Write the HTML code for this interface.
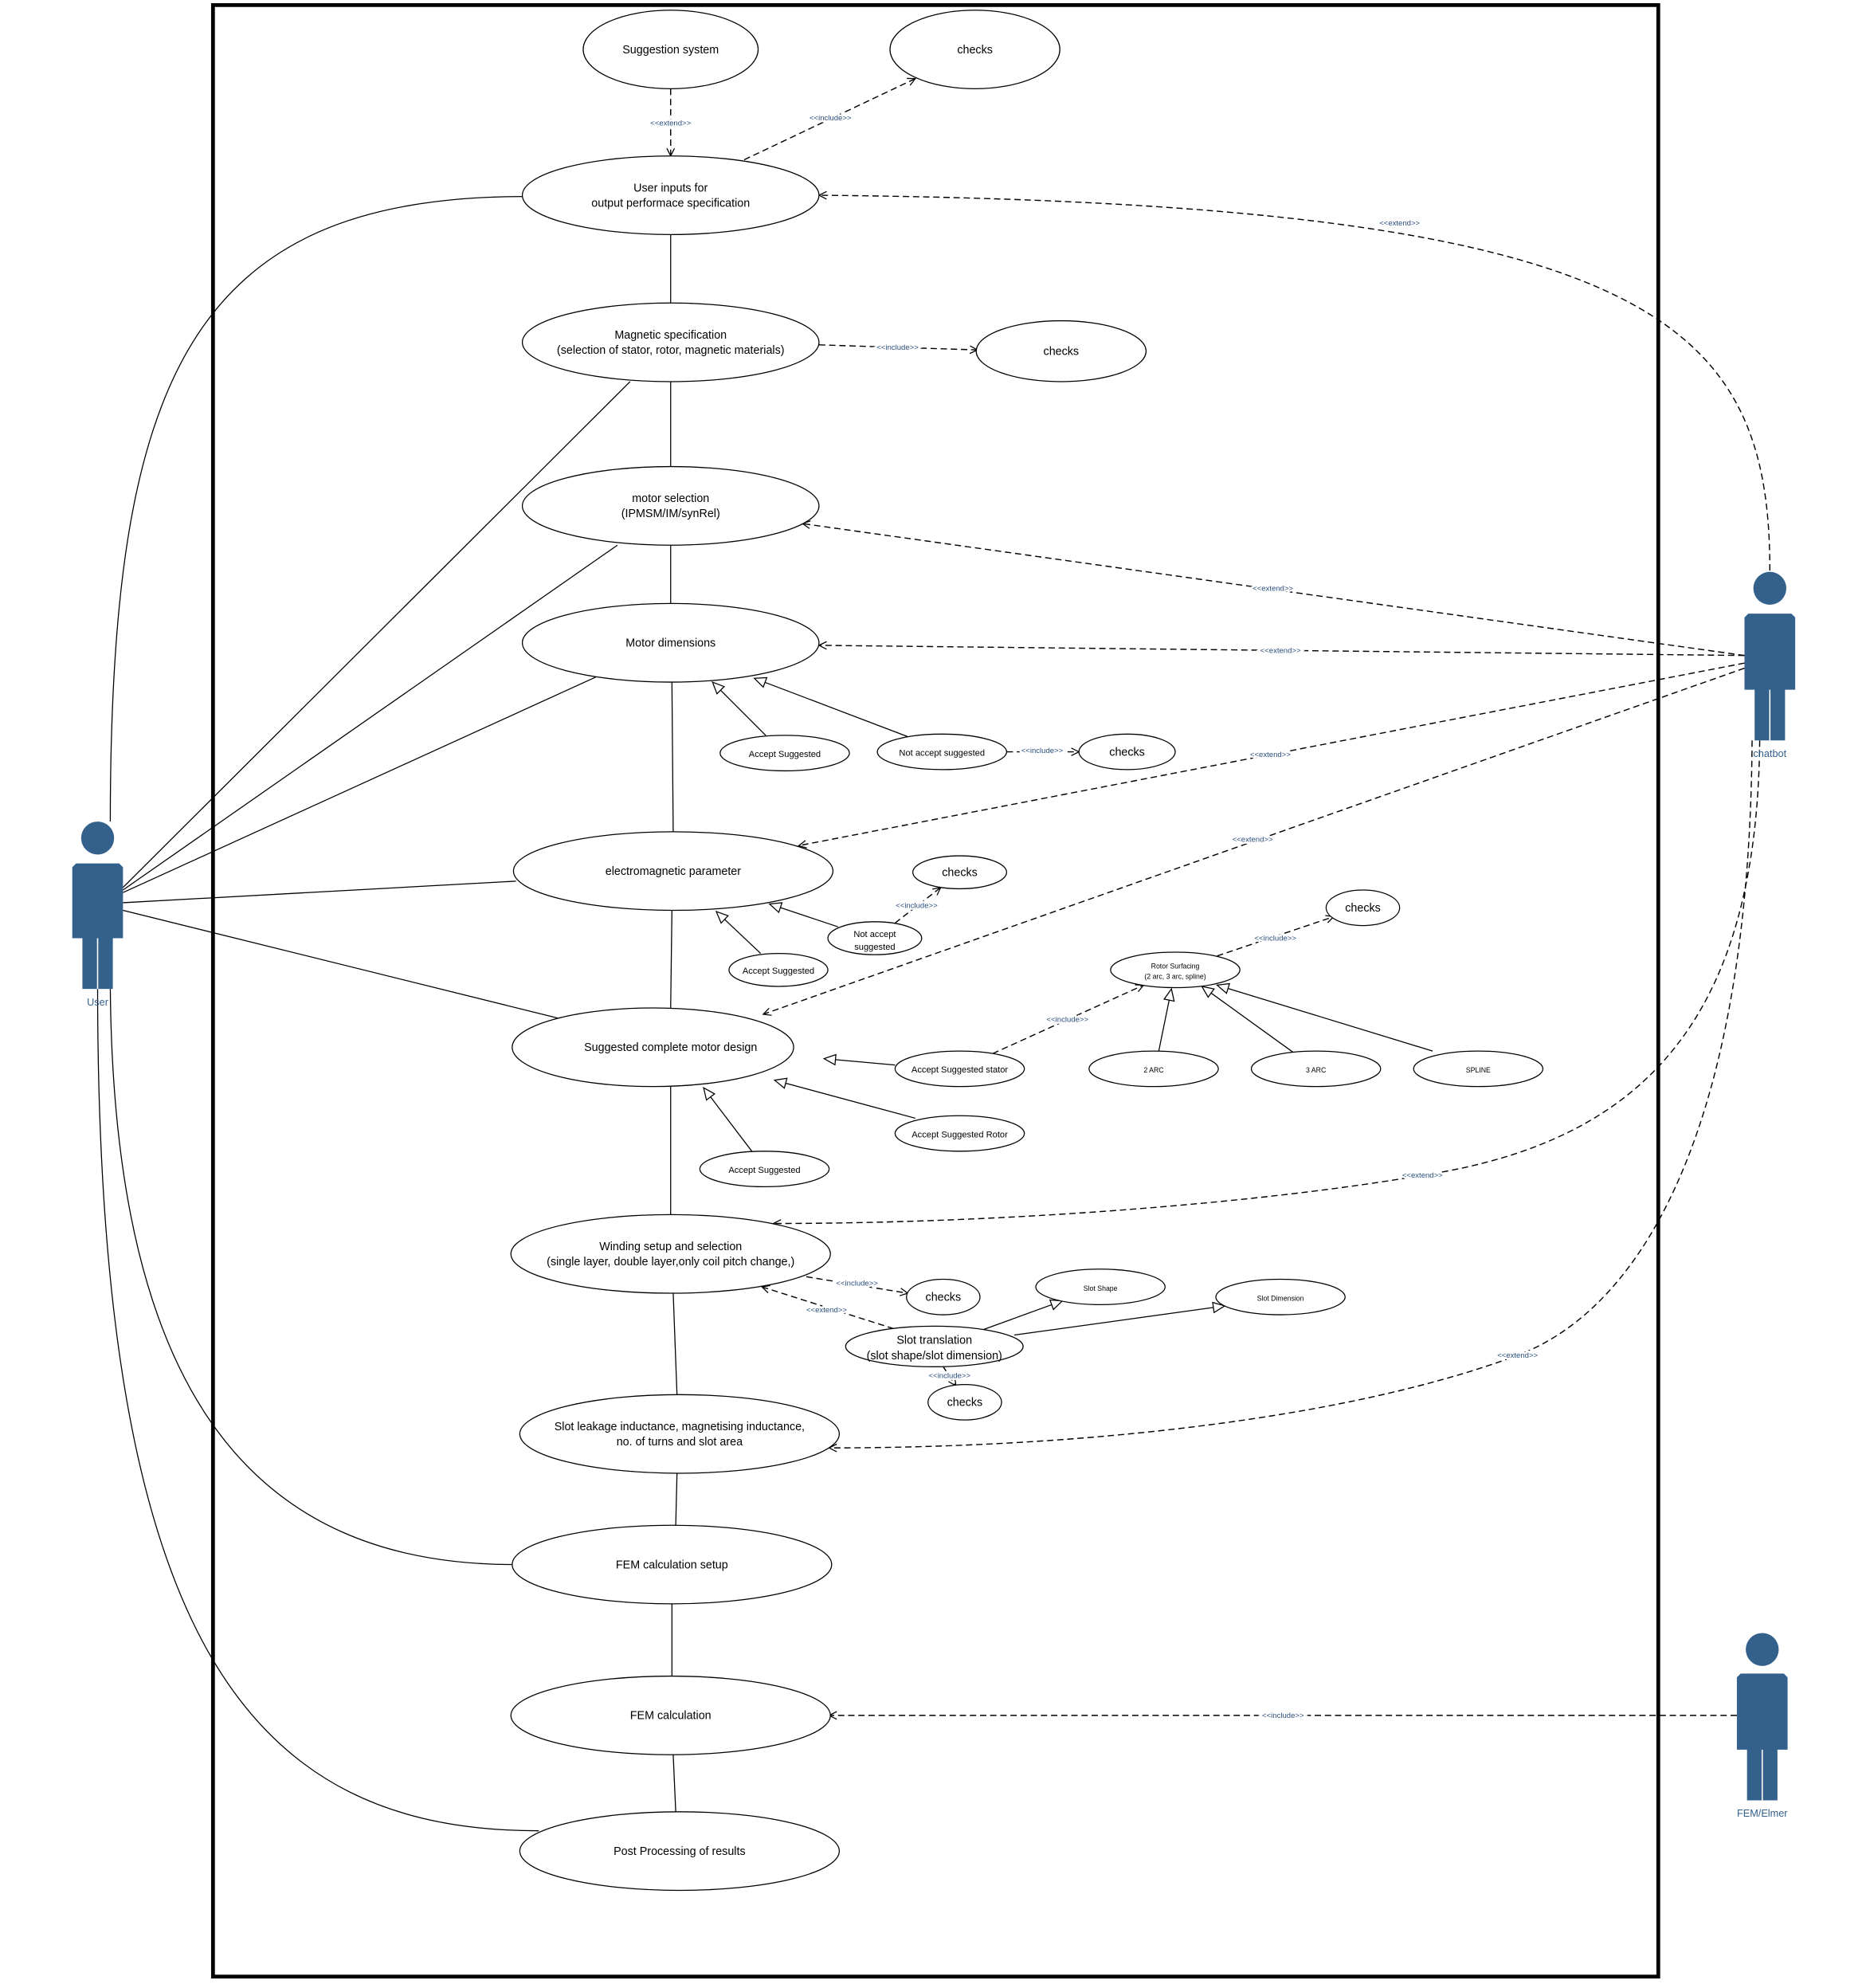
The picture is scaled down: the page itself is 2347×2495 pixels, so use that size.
<!DOCTYPE html>
<html><head><meta charset="utf-8"><style>
html,body{margin:0;padding:0;background:#fff}
svg{display:block}
text{font-family:"Liberation Sans",sans-serif;fill:#000}
.lbl{font-size:6px;fill:#2a4e7e;stroke:#fff;stroke-width:3px;paint-order:stroke}
</style></head><body>
<svg width="2347" height="2495" viewBox="0 0 1475 1568" preserveAspectRatio="none" xmlns="http://www.w3.org/2000/svg">
<defs>
<marker id="open" markerWidth="8" markerHeight="8" refX="7" refY="4" orient="auto" markerUnits="userSpaceOnUse"><path d="M1,1 L7,4 L1,7" fill="none" stroke="#000" stroke-width="0.8"/></marker>
<marker id="tri" markerWidth="12" markerHeight="12" refX="10" refY="5" orient="auto" markerUnits="userSpaceOnUse"><path d="M1,1 L10,5 L1,9 Z" fill="#fff" stroke="#000" stroke-width="0.8"/></marker>
</defs>
<rect x="168" y="4" width="1140" height="1555" fill="none" stroke="#000" stroke-width="3"/>

<g fill="none" stroke="#000" stroke-width="0.8">
<path d="M87,648 C87,300 150,155 413,155"/>
<path d="M87,780 C90,1100 200,1234 405,1234"/>
<path d="M77,780 C77,1300 200,1444 425,1444"/>
<line x1="97" y1="700" x2="497" y2="301"/>
<line x1="97" y1="702" x2="487" y2="430"/>
<line x1="97" y1="704" x2="470" y2="534"/>
<line x1="97" y1="712" x2="407" y2="695"/>
<line x1="97" y1="718" x2="440" y2="803"/>
<line x1="529" y1="185" x2="529" y2="239"/>
<line x1="529" y1="301" x2="529" y2="368"/>
<line x1="529" y1="430" x2="529" y2="476"/>
<line x1="530" y1="538" x2="531" y2="656"/>
<line x1="530" y1="718" x2="529" y2="795"/>
<line x1="529" y1="857" x2="529" y2="958"/>
<line x1="531" y1="1020" x2="534" y2="1100"/>
<line x1="534" y1="1162" x2="533" y2="1203"/>
<line x1="530" y1="1265" x2="530" y2="1322"/>
<line x1="531" y1="1384" x2="533" y2="1429"/>
</g>

<g fill="none" stroke="#000" stroke-width="0.8" marker-end="url(#tri)">
<line x1="604" y1="580" x2="562" y2="538"/>
<line x1="716" y1="581" x2="595" y2="535"/>
<line x1="600" y1="752" x2="565" y2="719"/>
<line x1="661" y1="731" x2="607" y2="713"/>
<line x1="706" y1="840" x2="650" y2="835"/>
<line x1="722" y1="882" x2="611" y2="852"/>
<line x1="593" y1="908" x2="555" y2="858"/>
<line x1="914" y1="829" x2="924" y2="780"/>
<line x1="1020" y1="830" x2="948" y2="778"/>
<line x1="1130" y1="829" x2="960" y2="777"/>
<line x1="772" y1="1050" x2="838" y2="1026"/>
<line x1="800" y1="1053" x2="966" y2="1030"/>
</g>

<g fill="none" stroke="#000" stroke-width="0.9" stroke-dasharray="5,3" marker-end="url(#open)">
<line x1="529" y1="70" x2="529" y2="123"/>
<line x1="587" y1="126" x2="722" y2="62"/>
<path d="M1396,450 C1396,250 1300,160 646,154"/>
<line x1="646" y1="272" x2="771" y2="276"/>
<line x1="1376" y1="517" x2="633" y2="413"/>
<line x1="1376" y1="517" x2="646" y2="509"/>
<line x1="1376" y1="523" x2="630" y2="667"/>
<line x1="1376" y1="527" x2="602" y2="800"/>
<path d="M1388,584 C1386,800 1300,900 1122,927 C1000,948 800,965 610,965"/>
<path d="M1382,584 C1380,880 1300,1030 1197,1069 C1060,1120 850,1142 654,1142"/>
<line x1="1370" y1="1353" x2="654" y2="1353"/>
<line x1="794" y1="593" x2="851" y2="593"/>
<line x1="706" y1="728" x2="742" y2="700"/>
<line x1="960" y1="754" x2="1052" y2="723"/>
<line x1="783" y1="831" x2="902" y2="777"/>
<line x1="636" y1="1007" x2="716" y2="1020"/>
<line x1="705" y1="1048" x2="601" y2="1015"/>
<line x1="744" y1="1078" x2="754" y2="1093"/>
</g>

<g text-anchor="middle">
<text class="lbl" x="529" y="99">&lt;&lt;extend&gt;&gt;</text>
<text class="lbl" x="655" y="95">&lt;&lt;include&gt;&gt;</text>
<text class="lbl" x="1104" y="178">&lt;&lt;extend&gt;&gt;</text>
<text class="lbl" x="708" y="276">&lt;&lt;include&gt;&gt;</text>
<text class="lbl" x="1004" y="466">&lt;&lt;extend&gt;&gt;</text>
<text class="lbl" x="1010" y="515">&lt;&lt;extend&gt;&gt;</text>
<text class="lbl" x="1002" y="597">&lt;&lt;extend&gt;&gt;</text>
<text class="lbl" x="988" y="664">&lt;&lt;extend&gt;&gt;</text>
<text class="lbl" x="1122" y="929">&lt;&lt;extend&gt;&gt;</text>
<text class="lbl" x="1197" y="1071">&lt;&lt;extend&gt;&gt;</text>
<text class="lbl" x="1012" y="1355">&lt;&lt;include&gt;&gt;</text>
<text class="lbl" x="822" y="594">&lt;&lt;include&gt;&gt;</text>
<text class="lbl" x="723" y="716">&lt;&lt;include&gt;&gt;</text>
<text class="lbl" x="1006" y="742">&lt;&lt;include&gt;&gt;</text>
<text class="lbl" x="842" y="806">&lt;&lt;include&gt;&gt;</text>
<text class="lbl" x="676" y="1014">&lt;&lt;include&gt;&gt;</text>
<text class="lbl" x="652" y="1035">&lt;&lt;extend&gt;&gt;</text>
<text class="lbl" x="749" y="1087">&lt;&lt;include&gt;&gt;</text>
</g>

<g fill="#fff" stroke="#000" stroke-width="0.8">
<ellipse cx="529" cy="39" rx="69" ry="31"/>
<ellipse cx="769" cy="39" rx="67" ry="31"/>
<ellipse cx="529" cy="154" rx="117" ry="31"/>
<ellipse cx="529" cy="270" rx="117" ry="31"/>
<ellipse cx="837" cy="277" rx="67" ry="24"/>
<ellipse cx="529" cy="399" rx="117" ry="31"/>
<ellipse cx="529" cy="507" rx="117" ry="31"/>
<ellipse cx="619" cy="594" rx="51" ry="14"/>
<ellipse cx="743" cy="593" rx="51" ry="14"/>
<ellipse cx="889" cy="593" rx="38" ry="14"/>
<ellipse cx="531" cy="687" rx="126" ry="31"/>
<ellipse cx="757" cy="688" rx="37" ry="13"/>
<ellipse cx="690" cy="740" rx="37" ry="13"/>
<ellipse cx="614" cy="765" rx="39" ry="13"/>
<ellipse cx="1075" cy="716" rx="29" ry="14"/>
<ellipse cx="927" cy="765" rx="51" ry="14"/>
<ellipse cx="515" cy="826" rx="111" ry="31"/>
<ellipse cx="757" cy="843" rx="51" ry="14"/>
<ellipse cx="910" cy="843" rx="51" ry="14"/>
<ellipse cx="1038" cy="843" rx="51" ry="14"/>
<ellipse cx="1166" cy="843" rx="51" ry="14"/>
<ellipse cx="757" cy="894" rx="51" ry="14"/>
<ellipse cx="603" cy="922" rx="51" ry="14"/>
<ellipse cx="529" cy="989" rx="126" ry="31"/>
<ellipse cx="744" cy="1023" rx="29" ry="14"/>
<ellipse cx="868" cy="1015" rx="51" ry="14"/>
<ellipse cx="1010" cy="1023" rx="51" ry="14"/>
<ellipse cx="737" cy="1062" rx="70" ry="16"/>
<ellipse cx="761" cy="1106" rx="29" ry="14"/>
<ellipse cx="536" cy="1131" rx="126" ry="31"/>
<ellipse cx="530" cy="1234" rx="126" ry="31"/>
<ellipse cx="529" cy="1353" rx="126" ry="31"/>
<ellipse cx="536" cy="1460" rx="126" ry="31"/>
</g>

<g text-anchor="middle" font-size="9">
<text x="529" y="42">Suggestion system</text>
<text x="769" y="42">checks</text>
<text x="529" y="151">User inputs for</text>
<text x="529" y="163">output performace specification</text>
<text x="529" y="267">Magnetic specification</text>
<text x="529" y="279">(selection of stator, rotor, magnetic materials)</text>
<text x="837" y="280">checks</text>
<text x="529" y="396">motor selection</text>
<text x="529" y="408">(IPMSM/IM/synRel)</text>
<text x="529" y="510">Motor dimensions</text>
<text x="619" y="597" font-size="7">Accept Suggested</text>
<text x="743" y="596" font-size="7">Not accept suggested</text>
<text x="889" y="596">checks</text>
<text x="531" y="690">electromagnetic parameter</text>
<text x="757" y="691">checks</text>
<text x="690" y="739" font-size="7">Not accept</text>
<text x="690" y="749" font-size="7">suggested</text>
<text x="614" y="768" font-size="7">Accept Suggested</text>
<text x="1075" y="719">checks</text>
<text x="927" y="764" font-size="5.5">Rotor Surfacing</text>
<text x="927" y="772" font-size="5.5">(2 arc, 3 arc, spline)</text>
<text x="529" y="829">Suggested complete motor design</text>
<text x="757" y="846" font-size="7">Accept Suggested stator</text>
<text x="910" y="846" font-size="5.5">2 ARC</text>
<text x="1038" y="846" font-size="5.5">3 ARC</text>
<text x="1166" y="846" font-size="5.5">SPLINE</text>
<text x="757" y="897" font-size="7">Accept Suggested Rotor</text>
<text x="603" y="925" font-size="7">Accept Suggested</text>
<text x="529" y="986">Winding setup and selection</text>
<text x="529" y="998">(single layer, double layer,only coil pitch change,)</text>
<text x="744" y="1026">checks</text>
<text x="868" y="1018" font-size="5.5">Slot Shape</text>
<text x="1010" y="1026" font-size="5.5">Slot Dimension</text>
<text x="737" y="1060">Slot translation</text>
<text x="737" y="1072">(slot shape/slot dimension)</text>
<text x="761" y="1109">checks</text>
<text x="536" y="1128">Slot leakage inductance, magnetising inductance,</text>
<text x="536" y="1140">no. of turns and slot area</text>
<text x="530" y="1237">FEM calculation setup</text>
<text x="529" y="1356">FEM calculation</text>
<text x="536" y="1463">Post Processing of results</text>
</g>

<g fill="#34618c">
<circle cx="77" cy="661" r="13"/>
<path d="M60,681 H94 L97,684 V740 H89 V780 H65 V740 H57 V684 Z"/>
</g>
<line x1="77" y1="740" x2="77" y2="780" stroke="#fff" stroke-width="1"/>
<text x="77" y="793" font-size="8" text-anchor="middle" style="fill:#34618c">User</text>

<g fill="#34618c">
<circle cx="1396" cy="464" r="13"/>
<path d="M1379,484 H1413 L1416,487 V544 H1408 V584 H1384 V544 H1376 V487 Z"/>
</g>
<line x1="1396" y1="544" x2="1396" y2="584" stroke="#fff" stroke-width="1"/>
<text x="1396" y="597" font-size="8" text-anchor="middle" style="fill:#34618c">chatbot</text>

<g fill="#34618c">
<circle cx="1390" cy="1301" r="13"/>
<path d="M1373,1320 H1407 L1410,1323 V1380 H1402 V1420 H1378 V1380 H1370 V1323 Z"/>
</g>
<line x1="1390" y1="1380" x2="1390" y2="1420" stroke="#fff" stroke-width="1"/>
<text x="1390" y="1433" font-size="8" text-anchor="middle" style="fill:#34618c">FEM/Elmer</text>
</svg>
</body></html>
